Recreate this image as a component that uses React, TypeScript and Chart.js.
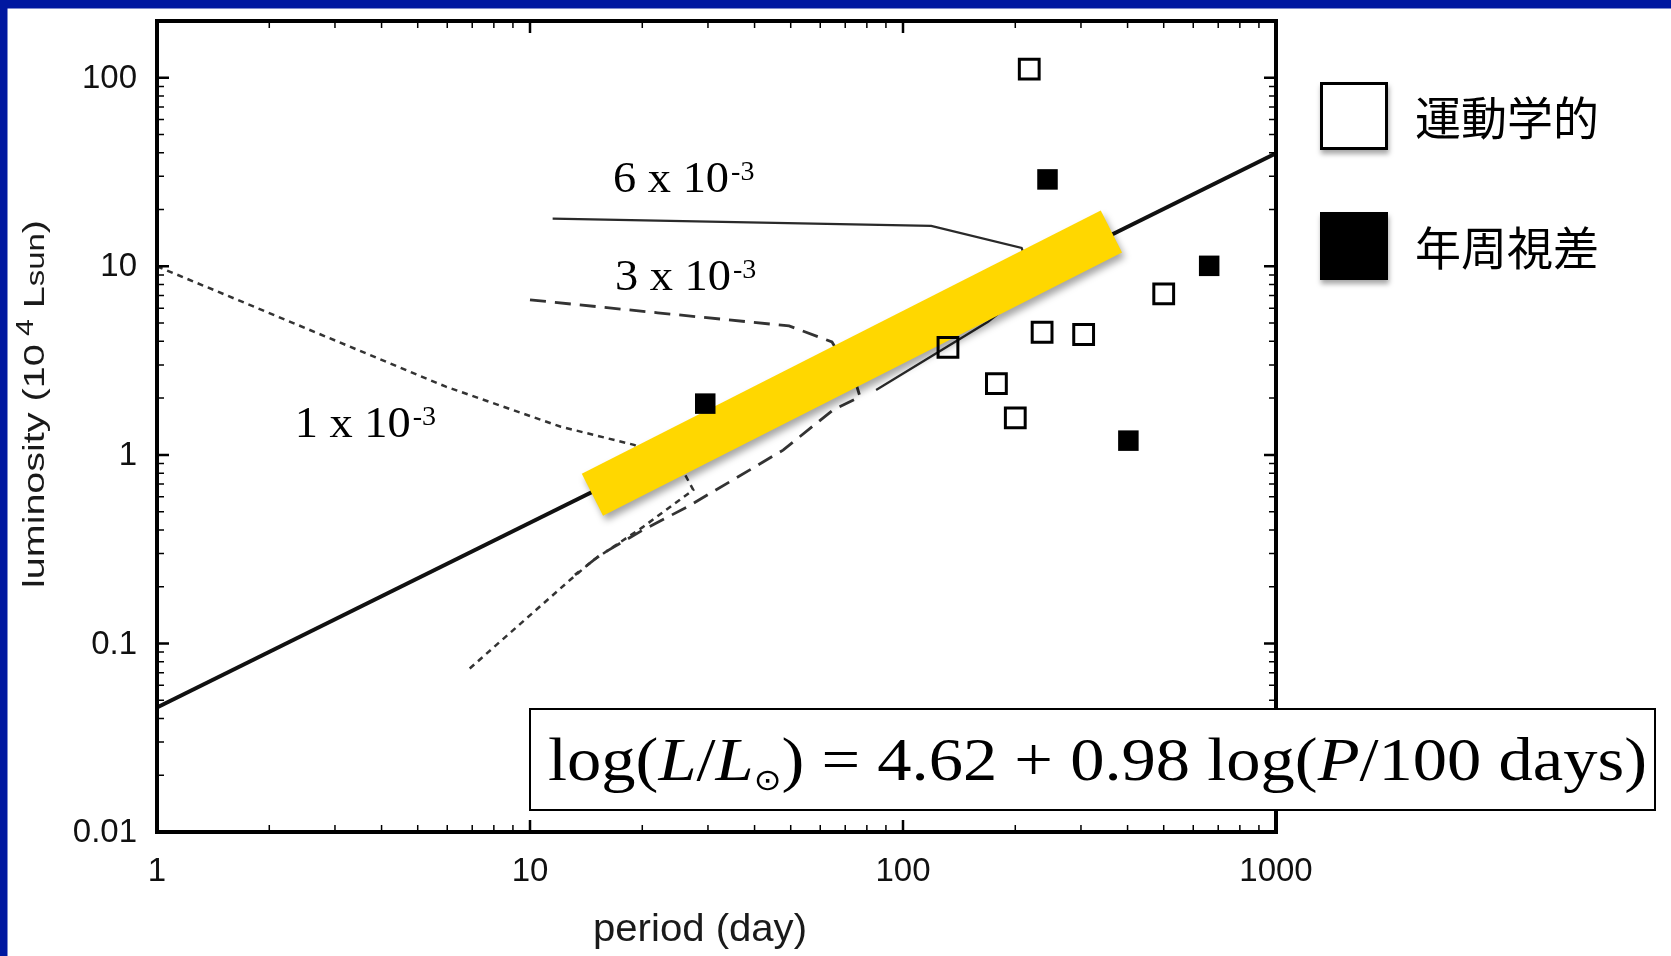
import React, { useEffect, useRef } from 'react';
import { Chart, registerables } from 'chart.js';

Chart.register(...registerables);

// Axis ticks
const xTickValues = [1, 10, 100, 1000];
const xTickLabels = ['1', '10', '100', '1000'];
const yTickValues = [0.01, 0.1, 1, 10, 100];
const yTickLabels = ['0.01', '0.1', '1', '10', '100'];

const seriesNames = ['運動学的', '年周視差'];

// Kinematic distances: period (day), luminosity (10^4 Lsun)
const kinematicPeriod = [218, 132, 178, 200, 236, 305, 500];
const kinematicLum = [111, 3.72, 2.39, 1.57, 4.47, 4.35, 7.14];

// Annual parallax distances
const parallaxPeriod = [29.5, 244, 662, 402];
const parallaxLum = [1.87, 28.9, 10.06, 1.19];

// Period-luminosity relation, log(L/Lsun) = 4.62 + 0.98 log(P/100 d)
const relationPeriod = [1, 1000];
const relationLum = [0.0457, 39.8];

// Highlighted stretch of the relation
const bandPeriod = [14.7, 362];
const bandLum = [0.614, 15.3];

// Model tracks
const track6Period = [11.5, 119, 208, 226, 169, 84.7];
const track6Lum = [17.9, 16.4, 12.5, 7.97, 5.08, 2.21];
const track3Period = [10, 22, 49.5, 64.5, 74.3, 76.7, 64.9, 47.7, 35.0, 26.4, 20.1, 15.4, 13.2];
const track3Lum = [6.64, 5.67, 4.83, 3.97, 2.5, 2.03, 1.73, 1.06, 0.737, 0.53, 0.4, 0.294, 0.231];
const track1Period = [1, 2.32, 5.95, 12.1, 19.0, 25.2, 27.4, 20.1, 14.8, 12.8, 6.82];
const track1Lum = [10, 5.0, 2.3, 1.41, 1.13, 0.885, 0.652, 0.415, 0.277, 0.217, 0.0723];

// Track annotations, anchored at (period, luminosity)
const trackLabelText = ['6 x 10', '3 x 10', '1 x 10'];
const trackLabelExp = ['-3', '-3', '-3'];
const trackLabelPeriod = [16.7, 16.9, 2.34];
const trackLabelLum = [24.8, 7.5, 1.246];

const W = 1671;
const H = 956;
const BLUE = '#0018a0';

const pts = (xs: number[], ys: number[]) => xs.map((x, i) => ({ x, y: ys[i] }));

type Run = { text: string; font: string; dy?: number };

function runsWidth(ctx: CanvasRenderingContext2D, runs: Run[]) {
  let w = 0;
  for (const r of runs) {
    ctx.font = r.font;
    w += ctx.measureText(r.text).width;
  }
  return w;
}

function drawRuns(ctx: CanvasRenderingContext2D, runs: Run[], x: number, y: number, target?: number) {
  const w = runsWidth(ctx, runs);
  const sx = target ? target / w : 1;
  ctx.save();
  ctx.translate(x, y);
  ctx.scale(sx, 1);
  ctx.textAlign = 'left';
  ctx.textBaseline = 'alphabetic';
  let cx = 0;
  for (const r of runs) {
    ctx.font = r.font;
    ctx.fillText(r.text, cx, r.dy || 0);
    cx += ctx.measureText(r.text).width;
  }
  ctx.restore();
}

const decor = {
  id: 'decor',
  beforeDraw(chart: any) {
    const ctx = chart.ctx as CanvasRenderingContext2D;
    ctx.save();
    ctx.fillStyle = '#ffffff';
    ctx.fillRect(0, 0, W, H);
    ctx.fillStyle = BLUE;
    ctx.fillRect(0, 0, W, 8.5);
    ctx.fillRect(0, 0, 7.5, H);
    ctx.restore();
  },
  beforeDatasetDraw(chart: any, args: any) {
    const ds = chart.data.datasets[args.index];
    if (ds.label === 'band') {
      const ctx = chart.ctx as CanvasRenderingContext2D;
      ctx.save();
      ctx.shadowColor = 'rgba(0,0,0,0.35)';
      ctx.shadowOffsetX = 3;
      ctx.shadowOffsetY = 5;
      ctx.shadowBlur = 7;
    }
  },
  afterDatasetDraw(chart: any, args: any) {
    const ds = chart.data.datasets[args.index];
    if (ds.label === 'band') chart.ctx.restore();
  },
  afterDatasetsDraw(chart: any) {
    const ctx = chart.ctx as CanvasRenderingContext2D;
    const { left, right, top, bottom } = chart.chartArea;
    const xs = chart.scales.x;
    const ys = chart.scales.y;

    // frame with inward ticks on all sides
    ctx.save();
    ctx.strokeStyle = '#000';
    ctx.lineWidth = 4;
    ctx.strokeRect(left, top, right - left, bottom - top);
    for (let d = -2; d <= 2; d++) {
      for (let m = 1; m <= 9; m++) {
        const v = m * Math.pow(10, d);
        if (v < ys.min * 0.999 || v > ys.max * 1.001) continue;
        const py = ys.getPixelForValue(v);
        const len = m === 1 ? 12 : 7;
        ctx.lineWidth = m === 1 ? 2.5 : 1.5;
        ctx.beginPath();
        ctx.moveTo(left, py);
        ctx.lineTo(left + len, py);
        ctx.moveTo(right, py);
        ctx.lineTo(right - len, py);
        ctx.stroke();
      }
    }
    for (let d = 0; d <= 3; d++) {
      for (let m = 1; m <= 9; m++) {
        const v = m * Math.pow(10, d);
        if (v < xs.min * 0.999 || v > xs.max * 1.001) continue;
        const px = xs.getPixelForValue(v);
        const len = m === 1 ? 12 : 7;
        ctx.lineWidth = m === 1 ? 2.5 : 1.5;
        ctx.beginPath();
        ctx.moveTo(px, bottom);
        ctx.lineTo(px, bottom - len);
        ctx.moveTo(px, top);
        ctx.lineTo(px, top + len);
        ctx.stroke();
      }
    }

    // tick labels
    ctx.fillStyle = '#111';
    ctx.font = '33px "Liberation Sans", Arial, sans-serif';
    ctx.textAlign = 'right';
    ctx.textBaseline = 'middle';
    yTickValues.forEach((v, i) => {
      ctx.fillText(yTickLabels[i], left - 20, ys.getPixelForValue(v) + 1);
    });
    ctx.textAlign = 'center';
    xTickValues.forEach((v, i) => {
      ctx.fillText(xTickLabels[i], xs.getPixelForValue(v), bottom + 40);
    });

    // axis titles
    ctx.fillStyle = '#1a1a1a';
    const sans = '"Liberation Sans", Arial, sans-serif';
    drawRuns(ctx, [{ text: 'period (day)', font: `39px ${sans}` }], 593, 941, 214);
    ctx.save();
    ctx.translate(44, 588);
    ctx.rotate(-Math.PI / 2);
    drawRuns(
      ctx,
      [
        { text: 'luminosity (10', font: `30px ${sans}` },
        { text: ' 4', font: `23px ${sans}`, dy: -11 },
        { text: ' L', font: `30px ${sans}` },
        { text: 'sun', font: `25px ${sans}` },
        { text: ')', font: `30px ${sans}` },
      ],
      0,
      0,
      368
    );
    ctx.restore();

    // track annotations
    ctx.fillStyle = '#000';
    const serif = '"Liberation Serif", "DejaVu Serif", serif';
    trackLabelText.forEach((t, i) => {
      const px = xs.getPixelForValue(trackLabelPeriod[i]);
      const py = ys.getPixelForValue(trackLabelLum[i]);
      drawRuns(ctx, [{ text: t, font: `44px ${serif}` }], px, py, 116);
      drawRuns(ctx, [{ text: trackLabelExp[i], font: `28px ${serif}` }], px + 118, py - 12);
    });

    // legend
    const legendY = [82, 212];
    seriesNames.forEach((name, i) => {
      const y0 = legendY[i];
      ctx.save();
      ctx.shadowColor = 'rgba(0,0,0,0.35)';
      ctx.shadowOffsetX = 1;
      ctx.shadowOffsetY = 4;
      ctx.shadowBlur = 5;
      if (i === 0) {
        ctx.fillStyle = '#fff';
        ctx.fillRect(1320, y0, 68, 68);
        ctx.shadowColor = 'rgba(0,0,0,0)';
        ctx.strokeStyle = '#000';
        ctx.lineWidth = 3;
        ctx.strokeRect(1321.5, y0 + 1.5, 65, 65);
      } else {
        ctx.fillStyle = '#000';
        ctx.fillRect(1320, y0, 68, 68);
      }
      ctx.restore();
      ctx.fillStyle = '#000';
      ctx.font = '46px "Noto Sans CJK JP", sans-serif';
      ctx.textAlign = 'left';
      ctx.textBaseline = 'middle';
      ctx.fillText(name, 1415, y0 + 36);
    });

    // relation formula
    ctx.fillStyle = '#fff';
    ctx.fillRect(530, 709, 1125, 101);
    ctx.strokeStyle = '#000';
    ctx.lineWidth = 2;
    ctx.strokeRect(530, 709, 1125, 101);
    ctx.fillStyle = '#000';
    const rom = `62px ${serif}`;
    const ita = `italic 62px ${serif}`;
    drawRuns(
      ctx,
      [
        { text: 'log(', font: rom },
        { text: 'L', font: ita },
        { text: '/', font: rom },
        { text: 'L', font: ita },
        { text: '⊙', font: '30px "DejaVu Sans", sans-serif', dy: 10 },
        { text: ') = 4.62 + 0.98 log(', font: rom },
        { text: 'P', font: ita },
        { text: '/100 days)', font: rom },
      ],
      548,
      780,
      1099
    );
    ctx.restore();
  },
};

export default function App() {
  const ref = useRef<HTMLCanvasElement | null>(null);

  useEffect(() => {
    if (!ref.current) return;
    const chart = new Chart(ref.current, {
      type: 'scatter',
      data: {
        datasets: [
          {
            label: seriesNames[0],
            data: pts(kinematicPeriod, kinematicLum),
            pointStyle: 'rect',
            pointRadius: 14,
            borderWidth: 3,
            borderColor: '#000',
            backgroundColor: 'rgba(0,0,0,0)',
            showLine: false,
            order: 0,
          },
          {
            label: seriesNames[1],
            data: pts(parallaxPeriod, parallaxLum),
            pointStyle: 'rect',
            pointRadius: 14.5,
            borderWidth: 0,
            borderColor: '#000',
            backgroundColor: '#000',
            showLine: false,
            order: 0,
          },
          {
            label: 'band',
            data: pts(bandPeriod, bandLum),
            showLine: true,
            borderColor: 'rgb(255,215,0)',
            borderWidth: 47,
            borderCapStyle: 'butt',
            pointRadius: 0,
            order: 1,
          },
          {
            label: 'relation',
            data: pts(relationPeriod, relationLum),
            showLine: true,
            borderColor: '#111',
            borderWidth: 4,
            pointRadius: 0,
            order: 2,
          },
          {
            label: '6e-3',
            data: pts(track6Period, track6Lum),
            showLine: true,
            borderColor: '#2a2a2a',
            borderWidth: 2.2,
            pointRadius: 0,
            order: 3,
          },
          {
            label: '3e-3',
            data: pts(track3Period, track3Lum),
            showLine: true,
            borderColor: '#333',
            borderWidth: 2.8,
            borderDash: [16, 9],
            pointRadius: 0,
            order: 3,
          },
          {
            label: '1e-3',
            data: pts(track1Period, track1Lum),
            showLine: true,
            borderColor: '#333',
            borderWidth: 2.5,
            borderDash: [6, 5],
            pointRadius: 0,
            order: 3,
          },
        ],
      },
      options: {
        responsive: false,
        animation: false,
        events: [],
        layout: { padding: { left: 157, right: 395, top: 21, bottom: 124 } },
        scales: {
          x: { type: 'logarithmic', min: 1, max: 1000, display: false },
          y: { type: 'logarithmic', min: 0.01, max: 200, display: false },
        },
        plugins: {
          legend: { display: false },
          tooltip: { enabled: false },
        },
      },
      plugins: [decor],
    } as any);
    return () => chart.destroy();
  }, []);

  return (
    <div style={{ position: 'fixed', left: 0, top: 0, width: W, height: H, background: '#fff' }}>
      <canvas ref={ref} width={W} height={H} style={{ display: 'block', width: W, height: H }} />
    </div>
  );
}
